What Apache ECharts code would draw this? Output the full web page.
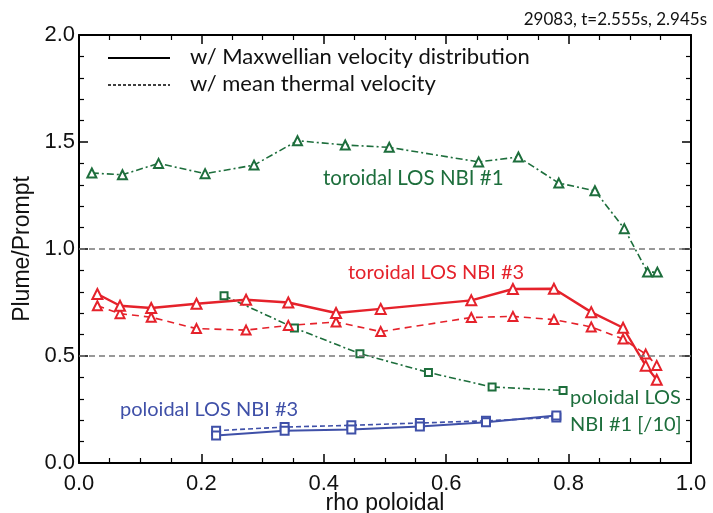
<!DOCTYPE html>
<html><head><meta charset="utf-8">
<script src="https://cdn.jsdelivr.net/npm/echarts@6/dist/echarts.min.js"></script>
<style>html,body{margin:0;padding:0;background:#fff}#c{width:713px;height:513px}</style>
</head><body><div id="c"></div>
<script>
// ---- data ----
var xTicks = [0.0, 0.2, 0.4, 0.6, 0.8, 1.0];
var yTicks = [0.0, 0.5, 1.0, 1.5, 2.0];
var refLevels = [1.0, 0.5];

var rhoTor1 = [0.021,0.071,0.130,0.206,0.286,0.357,0.435,0.507,0.653,0.718,0.784,0.843,0.891,0.929,0.945];
var tor1Max = [1.355,1.347,1.400,1.352,1.392,1.506,1.486,1.475,1.407,1.430,1.308,1.272,1.095,0.892,0.892];

var rhoTor3 = [0.030,0.067,0.118,0.192,0.273,0.342,0.420,0.493,0.641,0.709,0.776,0.837,0.889,0.926,0.944];
var tor3Max = [0.790,0.735,0.724,0.744,0.763,0.750,0.701,0.720,0.760,0.813,0.814,0.705,0.632,0.455,0.389];
var tor3Mean = [0.735,0.698,0.681,0.628,0.621,0.643,0.659,0.614,0.680,0.685,0.670,0.636,0.579,0.509,0.456];

var rhoPol1 = [0.237,0.352,0.459,0.571,0.675,0.791];
var pol1Max = [0.782,0.631,0.511,0.423,0.355,0.339];

var rhoPol3 = [0.224,0.336,0.445,0.557,0.665,0.780];
var pol3Max = [0.129,0.151,0.156,0.171,0.190,0.222];
var pol3Mean = [0.151,0.168,0.176,0.187,0.197,0.213];

var title = '29083, t=2.555s, 2.945s';
var legendTexts = ['w/ Maxwellian velocity distribution', 'w/ mean thermal velocity'];
var labels = {
  tor1: 'toroidal LOS NBI #1',
  tor3: 'toroidal LOS NBI #3',
  pol3: 'poloidal LOS NBI #3',
  pol1a: 'poloidal LOS',
  pol1b: 'NBI #1 [/10]'
};

// ---- styles ----
var GREEN = '#1d6e3c', RED = '#e5222b', BLUE = '#3f50a8';
var TF = 'Liberation Sans';
var AF = 'Lato';

function zip(xs, ys){ return xs.map(function(x,i){ return [x, ys[i]]; }); }

var chart = echarts.init(document.getElementById('c'), null, {renderer:'canvas'});

function xAx(pos, showLab){
  return {
    type:'value', min:0, max:1, interval:0.2, position:pos,
    axisLine:{show:true, onZero:false, lineStyle:{color:'#000', width:2}},
    axisTick:{show:true, inside:true, length:9, lineStyle:{color:'#000', width:1.5}},
    minorTick:{show:true, splitNumber:4, length:5, lineStyle:{color:'#000', width:1.2}},
    splitLine:{show:false},
    axisLabel:{show:showLab, fontFamily:TF, fontSize:22, color:'#111', margin:10,
      formatter:function(v){ return v.toFixed(1); }},
    name: showLab ? 'rho poloidal' : '', nameLocation:'middle', nameGap:29,
    nameMoveOverlap:false,
    nameTextStyle:{fontFamily:TF, fontSize:23, color:'#111'}
  };
}
function yAx(pos, showLab){
  return {
    type:'value', min:0, max:2, interval:0.5, position:pos,
    axisLine:{show:true, onZero:false, lineStyle:{color:'#000', width:2}},
    axisTick:{show:true, inside:true, length:9, lineStyle:{color:'#000', width:1.5}},
    minorTick:{show:true, splitNumber:5, length:5, lineStyle:{color:'#000', width:1.2}},
    splitLine:{show:false},
    axisLabel:{show:showLab, fontFamily:TF, fontSize:22, color:'#111', margin:4,
      formatter:function(v){ return v.toFixed(1); }},
    name: showLab ? 'Plume/Prompt' : '', nameLocation:'middle', nameGap:45,
    nameMoveOverlap:false,
    nameTextStyle:{fontFamily:TF, fontSize:23, color:'#111'}
  };
}

function line(data, color, type, width, symbol, size){
  return {
    type:'line', data:data, xAxisIndex:0, yAxisIndex:0,
    symbol:symbol, symbolSize:size, showSymbol:true,
    lineStyle:{color:color, width:width, type:type},
    itemStyle:{color:color, borderColor:color, borderWidth:1.8},
    animation:false, z:3
  };
}

var option = {
  backgroundColor:'#fff',
  animation:false,
  grid:{left:79, right:22, top:35, bottom:50, containLabel:false, outerBoundsMode:'none'},
  xAxis:[xAx('bottom', true), xAx('top', false)],
  yAxis:[yAx('left', true), yAx('right', false)],
  series:[
    {
      type:'line', data:[], xAxisIndex:0, yAxisIndex:0, z:1,
      markLine:{silent:true, symbol:['none','none'], label:{show:false},
        lineStyle:{color:'#777', width:1.5, type:[6,4]},
        data: refLevels.map(function(v){ return {yAxis:v}; })}
    },
    line(zip(rhoTor1, tor1Max), GREEN, [7,3,2,3], 1.6, 'emptyTriangle', 9),
    line(zip(rhoPol1, pol1Max), GREEN, [7,3,2,3], 1.6, 'emptyRect', 7),
    line(zip(rhoTor3, tor3Mean), RED, [7,5], 1.6, 'emptyTriangle', 9),
    line(zip(rhoTor3, tor3Max), RED, 'solid', 2.4, 'emptyTriangle', 10),
    line(zip(rhoPol3, pol3Mean), BLUE, [5,3], 1.6, 'emptyRect', 8),
    line(zip(rhoPol3, pol3Max), BLUE, 'solid', 2, 'emptyRect', 8)
  ],
  graphic:[
    {type:'text', right:6, top:11, style:{text:title, fontFamily:AF, fontSize:17, fill:'#111'}},
    {type:'line', shape:{x1:108, y1:58, x2:170, y2:58}, style:{stroke:'#000', lineWidth:2}},
    {type:'line', shape:{x1:108, y1:85, x2:170, y2:85}, style:{stroke:'#000', lineWidth:1.3, lineDash:[3,2]}},
    {type:'text', left:190, top:46, style:{text:legendTexts[0], fontFamily:AF, fontSize:22, fill:'#111'}},
    {type:'text', left:190, top:73, style:{text:legendTexts[1], fontFamily:AF, fontSize:22, fill:'#111'}},
    {type:'text', left:323, top:168, style:{text:labels.tor1, fontFamily:AF, fontSize:20.5, fill:GREEN}},
    {type:'text', left:348, top:263, style:{text:labels.tor3, fontFamily:AF, fontSize:20, fill:RED}},
    {type:'text', left:120, top:400, style:{text:labels.pol3, fontFamily:AF, fontSize:20, fill:BLUE}},
    {type:'text', left:570, top:388, style:{text:labels.pol1a, fontFamily:AF, fontSize:20, fill:GREEN}},
    {type:'text', left:570, top:415, style:{text:labels.pol1b, fontFamily:AF, fontSize:20, fill:GREEN}}
  ]
};
chart.setOption(option);
</script>
</body></html>
